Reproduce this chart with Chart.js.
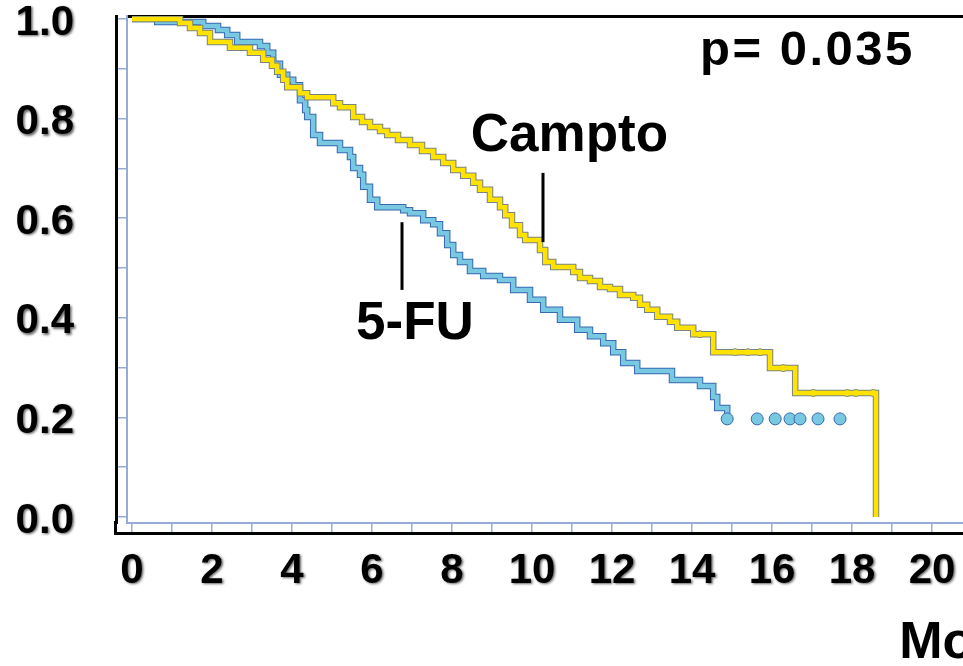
<!DOCTYPE html>
<html>
<head>
<meta charset="utf-8">
<script src="https://cdn.jsdelivr.net/npm/chart.js@4/dist/chart.umd.min.js"></script>
<style>
  html, body { margin: 0; padding: 0; background: #fff; overflow: hidden; }
  #wrap { width: 1100px; height: 666px; }
</style>
</head>
<body>
<div id="wrap"><canvas id="c" width="1100" height="666"></canvas></div>
<script>
// ---------- data ----------
const campMonths = [0, 1.2, 1.45, 1.7, 1.95, 2.45, 2.95, 3.28, 3.5, 3.63, 3.78, 3.88, 4.2, 4.38, 5.03, 5.2, 5.53, 5.75, 5.95, 6.2, 6.38, 6.65, 6.95, 7.25, 7.53, 7.78, 8.03, 8.28, 8.53, 8.7, 8.95, 9.2, 9.33, 9.5, 9.7, 9.83, 10.2, 10.33, 10.53, 11.03, 11.2, 11.45, 11.7, 11.95, 12.2, 12.53, 12.7, 12.88, 13.13, 13.45, 13.63, 14.03, 14.53, 15.95, 16.58, 18.6];
const campSurv   = [1, 0.992, 0.982, 0.972, 0.954, 0.942, 0.932, 0.918, 0.906, 0.894, 0.878, 0.863, 0.851, 0.843, 0.831, 0.823, 0.803, 0.793, 0.783, 0.775, 0.767, 0.757, 0.747, 0.735, 0.723, 0.711, 0.697, 0.685, 0.671, 0.657, 0.637, 0.622, 0.606, 0.586, 0.566, 0.556, 0.536, 0.512, 0.502, 0.492, 0.480, 0.474, 0.462, 0.458, 0.446, 0.440, 0.426, 0.416, 0.402, 0.392, 0.380, 0.367, 0.331, 0.299, 0.249, 0];
const campCensorMonths = [14.2, 15.08, 15.4, 15.7, 16.28, 17.03, 17.88, 18.1, 18.53];
const campCensorSurv   = [0.367, 0.331, 0.331, 0.331, 0.299, 0.249, 0.249, 0.249, 0.249];

const fuMonths = [0, 0.63, 1.78, 2.15, 2.38, 2.63, 3.2, 3.38, 3.53, 3.7, 3.88, 4.03, 4.2, 4.33, 4.38, 4.53, 4.7, 5.2, 5.45, 5.53, 5.7, 5.78, 5.95, 6.13, 6.78, 6.95, 7.28, 7.53, 7.7, 7.88, 8.03, 8.2, 8.45, 8.78, 9.2, 9.53, 9.95, 10.28, 10.7, 11.13, 11.45, 11.78, 12.03, 12.28, 12.63, 13.5, 14.2, 14.53, 14.63, 14.88];
const fuSurv   = [1, 0.994, 0.986, 0.978, 0.968, 0.954, 0.946, 0.932, 0.910, 0.888, 0.878, 0.867, 0.837, 0.817, 0.803, 0.767, 0.751, 0.737, 0.723, 0.701, 0.687, 0.663, 0.637, 0.622, 0.616, 0.610, 0.596, 0.588, 0.570, 0.546, 0.526, 0.512, 0.494, 0.484, 0.476, 0.456, 0.436, 0.416, 0.396, 0.376, 0.363, 0.349, 0.331, 0.309, 0.293, 0.275, 0.263, 0.241, 0.219, 0.199];
const fuCensorMonths = [14.88, 15.63, 16.08, 16.45, 16.7, 17.15, 17.7];
const fuCensorSurv   = [0.197, 0.197, 0.197, 0.197, 0.197, 0.197, 0.197];

const xTickValues = [0, 2, 4, 6, 8, 10, 12, 14, 16, 18, 20];
const xTickLabels = ['0', '2', '4', '6', '8', '10', '12', '14', '16', '18', '20'];
const yTickValues = [0, 0.2, 0.4, 0.6, 0.8, 1.0];
const yTickLabels = ['0.0', '0.2', '0.4', '0.6', '0.8', '1.0'];
const xTitle = 'Months';
const seriesNames = ['Campto', '5-FU'];
const pValueText = 'p= 0.035';

// ---------- styling / layout ----------
const FONT = "'Liberation Sans', Arial, Helvetica, sans-serif";
const FRAME = 'rgb(150,172,214)';
const YEL = 'rgb(255,226,0)', YEL_EDGE = 'rgb(120,132,128)';
const BLU = 'rgb(120,200,226)', BLU_EDGE = 'rgb(55,105,175)';
const X_MIN = -0.125, X_MAX = 23.8;
const Y_MIN = -0.01205, Y_MAX = 1.006;

const pts = (xs, ys) => xs.map((x, i) => ({ x, y: ys[i] }));

const notes = [
  { text: pValueText, x: 14.2, y: 0.935, size: 49, spacing: '2.5px' },
  { text: seriesNames[0], x: 8.47, y: 0.765, size: 53, spacing: '0px' },
  { text: seriesNames[1], x: 5.6, y: 0.386, size: 53, spacing: '0px' }
];
const pointers = [
  { x: 10.275, y1: 0.691, y2: 0.552 },
  { x: 6.75, y1: 0.592, y2: 0.456 }
];

const annotPlugin = {
  id: 'annot',
  beforeDatasetsDraw(chart) {
    // close the outer black frame at the lower-left corner
    const ctx = chart.ctx, yo = chart.scales.yOuter, xo = chart.scales.xOuter;
    ctx.save();
    ctx.strokeStyle = '#000';
    ctx.lineWidth = 3;
    ctx.beginPath();
    ctx.moveTo(yo.right - 0.5, chart.chartArea.bottom - 2);
    ctx.lineTo(yo.right - 0.5, xo.top + 0.5);
    ctx.lineTo(chart.chartArea.left + 2, xo.top + 0.5);
    ctx.stroke();
    ctx.restore();
  },
  afterDatasetsDraw(chart) {
    const ctx = chart.ctx, xs = chart.scales.x, ys = chart.scales.y;
    ctx.save();
    ctx.fillStyle = '#000';
    ctx.textAlign = 'left';
    ctx.textBaseline = 'middle';
    notes.forEach(n => {
      ctx.font = 'bold ' + n.size + 'px ' + FONT;
      if ('letterSpacing' in ctx) ctx.letterSpacing = n.spacing;
      ctx.fillText(n.text, xs.getPixelForValue(n.x), ys.getPixelForValue(n.y));
    });
    if ('letterSpacing' in ctx) ctx.letterSpacing = '0px';
    ctx.strokeStyle = '#000';
    ctx.lineWidth = 3;
    pointers.forEach(p => {
      const px = xs.getPixelForValue(p.x);
      ctx.beginPath();
      ctx.moveTo(px, ys.getPixelForValue(p.y1));
      ctx.lineTo(px, ys.getPixelForValue(p.y2));
      ctx.stroke();
    });
    ctx.restore();
    // soft drop shadow for the tick labels drawn next
    ctx.save();
    ctx.shadowColor = 'rgba(0,0,0,0.6)';
    ctx.shadowBlur = 2.5;
    ctx.shadowOffsetX = 1.5;
    ctx.shadowOffsetY = 1.5;
  },
  afterDraw(chart) { chart.ctx.restore(); }
};

const tickFont = { family: FONT, size: 42, weight: 'bold', lineHeight: 1.2 };

new Chart(document.getElementById('c'), {
  type: 'line',
  data: {
    datasets: [
      { label: seriesNames[0], data: pts(campMonths, campSurv), stepped: true, borderColor: YEL, borderWidth: 4.5, pointRadius: 0, fill: false, borderJoinStyle: 'miter' },
      { label: 'c-censor', data: pts(campCensorMonths, campCensorSurv), showLine: false, pointRadius: 3.5, pointBackgroundColor: YEL, pointBorderColor: YEL_EDGE, pointBorderWidth: 1 },
      { label: 'c-edge', data: pts(campMonths, campSurv), stepped: true, borderColor: YEL_EDGE, borderWidth: 6.5, pointRadius: 0, fill: false, borderJoinStyle: 'miter' },
      { label: 'f-censor', data: pts(fuCensorMonths, fuCensorSurv), showLine: false, pointRadius: 6, pointBackgroundColor: BLU, pointBorderColor: BLU_EDGE, pointBorderWidth: 1 },
      { label: seriesNames[1], data: pts(fuMonths, fuSurv), stepped: true, borderColor: BLU, borderWidth: 4.5, pointRadius: 0, fill: false, borderJoinStyle: 'miter' },
      { label: 'f-edge', data: pts(fuMonths, fuSurv), stepped: true, borderColor: BLU_EDGE, borderWidth: 6.5, pointRadius: 0, fill: false, borderJoinStyle: 'miter' }
    ]
  },
  options: {
    responsive: false,
    animation: false,
    devicePixelRatio: 1,
    layout: { padding: { left: 0, top: 16, right: 16, bottom: 0 } },
    plugins: { legend: { display: false }, tooltip: { enabled: false } },
    scales: {
      x: {
        type: 'linear', position: 'bottom', weight: 0, min: X_MIN, max: X_MAX,
        ticks: { display: false, stepSize: 1, includeBounds: false },
        grid: { drawOnChartArea: false, drawTicks: true, tickLength: 10, color: FRAME, lineWidth: 1.5 },
        border: { display: true, color: FRAME, width: 2 },
        afterFit: s => { s.height = 10; s.paddingLeft = 0; s.paddingRight = 0; }
      },
      xOuter: {
        type: 'linear', position: 'bottom', weight: 1, min: X_MIN, max: X_MAX,
        afterBuildTicks: s => { s.ticks = xTickValues.map(v => ({ value: v })); },
        ticks: { callback: (v, i) => xTickLabels[i], font: tickFont, color: '#000', padding: 13, maxRotation: 0, minRotation: 0, autoSkip: false, z: 1 },
        grid: { drawOnChartArea: false, drawTicks: false, color: 'rgba(0,0,0,0)' },
        border: { display: true, color: '#000', width: 3 },
        title: { display: true, text: xTitle, align: 'end', color: '#000', font: { family: FONT, size: 52, weight: 'bold', lineHeight: 1 }, padding: { top: 0, bottom: -4 } },
        afterFit: s => { s.height = 133; s.paddingLeft = 0; s.paddingRight = 0; }
      },
      xTop: {
        type: 'linear', position: 'top', min: X_MIN, max: X_MAX,
        ticks: { display: false },
        grid: { drawOnChartArea: false, drawTicks: false, color: 'rgba(0,0,0,0)' },
        border: { display: true, color: '#000', width: 3 },
        afterFit: s => { s.height = 0; s.paddingLeft = 0; s.paddingRight = 0; }
      },
      y: {
        type: 'linear', position: 'left', weight: 0, min: Y_MIN, max: Y_MAX,
        ticks: { display: false, stepSize: 0.1, includeBounds: false },
        grid: { drawOnChartArea: false, drawTicks: true, tickLength: 11, color: FRAME, lineWidth: 1.5 },
        border: { display: true, color: FRAME, width: 2 },
        afterFit: s => { s.width = 11; s.paddingTop = 0; s.paddingBottom = 0; }
      },
      yOuter: {
        type: 'linear', position: 'left', weight: 1, min: Y_MIN, max: Y_MAX,
        afterBuildTicks: s => { s.ticks = yTickValues.map(v => ({ value: v })); },
        ticks: { callback: (v, i) => yTickLabels[i], font: tickFont, color: '#000', padding: 42, labelOffset: 4, z: 1 },
        grid: { drawOnChartArea: false, drawTicks: false, color: 'rgba(0,0,0,0)' },
        border: { display: true, color: '#000', width: 3 },
        afterFit: s => { s.width = 116; s.paddingTop = 0; s.paddingBottom = 0; }
      }
    }
  },
  plugins: [annotPlugin]
});
</script>
</body>
</html>
